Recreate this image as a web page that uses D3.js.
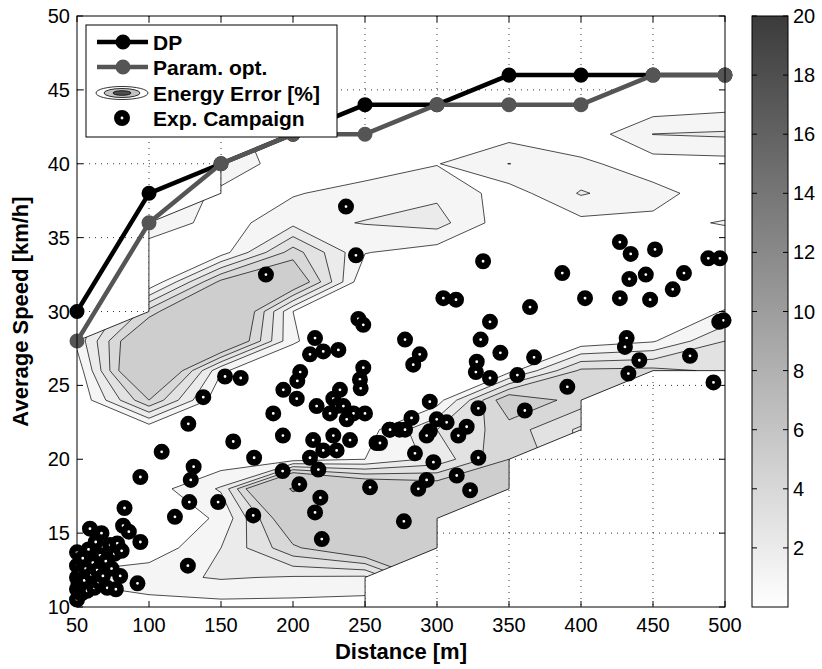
<!DOCTYPE html>
<html>
<head>
<meta charset="utf-8">
<script src="https://cdnjs.cloudflare.com/ajax/libs/d3/7.8.5/d3.min.js"></script>
<style>
  body { margin: 0; background: #fff; }
  text { font-family: "Liberation Sans", Arial, Helvetica, sans-serif; }
</style>
</head>
<body>
<svg id="chart" width="822" height="669"></svg>
<script>
// grid axes of the energy error map
const distances = [50, 100, 150, 200, 250, 300, 350, 400, 450, 500];
const speeds = [10, 12, 14, 16, 18, 20, 22, 24, 26, 28, 30, 32, 34, 36, 38, 40, 42, 44, 46, 48, 50];

// optimal speed profiles
const dpSpeed = [30, 38, 40, 42, 44, 44, 46, 46, 46, 46];
const paramSpeed = [28, 36, 40, 42, 42, 44, 44, 44, 46, 46];

// energy error [%], one row per speed (10 -> 50 km/h), null = not computed
const N = null;
const errorGrid = [
  [0.3, 0.5, 0.6, 0.6, 0.5, N, N, N, N, N],
  [1.2, 1.7, 2.1, 1.9, 1.8, N, N, N, N, N],
  [0.3, 0.3, 2.0, 4.8, 6.5, 6.0, N, N, N, N],
  [0.2, 0.5, 1.1, 6.5, 6.8, 6.5, N, N, N, N],
  [0, 0.47, 2.13, 10.4, 7.0, 6.0, 6.0, N, N, N],
  [0, 0, 0.3, 0.5, 1.0, 2.3, 5.0, N, N, N],
  [0, 0.1, 0, 0, 0.5, 3.0, 4.5, 2.8, N, N],
  [0, 5.0, 0.1, 0, 0, 0.5, 6.0, 4.5, N, N],
  [0.3, 8.4, 1.1, 0.2, 0, 0, 0.6, 4.2, 4.3, 3.8],
  [1.3, 7.4, 7.5, 1.1, 0, 0, 0, 0.3, 0.9, 3.0],
  [N, 4.4, 8.5, 1.0, 0, 0, 0, 0, 0.3, 1.05],
  [N, 0, 5.3, 6.5, 0, 0, 0, 0, 0, 0.3],
  [N, 0.3, 0.5, 4.5, 1.05, 0.5, 0.2, 0.2, 0.2, 0.5],
  [N, 1.8, 0.5, 1.7, 2.05, 2.4, 0.3, 0.7, 0.8, 1.05],
  [N, N, 0.8, 0.9, 1.5, 1.8, 0.5, 2.1, 1.3, 0.5],
  [N, N, 1.6, 0.5, 0.3, 0.95, 2.02, 1.2, 0.5, 0.6],
  [N, N, N, 0, 0, 0, 0.6, 0.3, 2.02, 2.15],
  [N, N, N, N, N, 0, 0, 0, 0.3, 0.6],
  [N, N, N, N, N, N, N, N, 0, 0],
  [N, N, N, N, N, N, N, N, N, N],
  [N, N, N, N, N, N, N, N, N, N]
];
const levels = [1, 2, 3, 4, 5, 10];

// experimental campaign [distance m, average speed km/h]
const campaign = [
  [50, 10.5], [50, 11.2], [50, 12.0], [50, 12.8], [50, 13.7], [51, 11.6], [52, 12.4], [53, 10.9],
  [54, 13.3], [55, 11.8], [56, 12.6], [57, 11.1], [58, 13.9], [59, 15.3], [60, 12.2], [61, 13.0],
  [62, 11.3], [63, 14.4], [64, 12.5], [65, 11.7], [66, 13.5], [67, 15.0], [68, 12.1], [70, 13.1],
  [71, 11.3], [73, 14.2], [74, 12.6], [76, 13.6], [77, 11.2], [78, 14.3], [80, 12.1], [81, 13.8],
  [82, 15.5], [83, 16.7], [86, 15.1], [92, 11.6], [94, 14.4], [94, 18.8], [127, 12.8], [118, 16.1],
  [236.8, 37.1], [181.2, 32.5], [243.7, 33.8], [332, 33.4], [245.4, 29.5], [248.8, 29.1],
  [215.3, 28.2], [211.8, 27.1], [221, 27.3], [231.5, 27.4], [205, 25.9], [203, 25.3],
  [248.8, 26.2], [246.5, 25.4], [247, 24.8], [152.8, 25.6], [163.7, 25.5], [137.7, 24.2],
  [127.3, 22.4], [186.3, 23.1], [193.3, 24.7], [202.6, 24.1], [228, 24.1], [230.3, 23.6],
  [235, 23.6], [242, 23.1], [216.4, 23.6], [232.6, 24.7], [225.7, 23.1], [237.3, 22.7], [250, 23.1],
  [193, 21.6], [214, 21.3], [228, 21.6], [239.6, 21.3], [230.3, 20.6], [221, 20.6], [211.8, 20.1],
  [217.6, 19.3], [192.8, 19.2], [204.4, 18.3], [219, 17.4], [215.3, 16.4], [220, 14.6], [172.4, 16.2],
  [173, 20.1], [158.5, 21.2], [148, 17.1], [128, 17.1], [108.8, 20.5], [131, 19.5], [129, 18.6],
  [258, 21.1], [253.5, 18.1], [267, 22.0], [274, 22.0],
  [387, 32.6], [304.4, 30.9], [313.2, 30.8], [364.6, 30.3], [336.8, 29.3], [402.8, 30.9], [427, 30.9],
  [448, 30.8], [463.7, 31.5], [471.5, 32.6], [433.6, 32.2], [445, 32.5], [427, 34.7], [434.5, 33.9],
  [451.4, 34.2], [488.4, 33.6], [496.5, 33.6],
  [277.8, 28.1], [288, 27.1], [283.5, 26.4], [330.3, 28.1], [344, 27.2], [367.4, 26.9], [327.6, 26.6],
  [327, 25.9], [336.8, 25.5], [355.8, 25.7], [295, 23.9], [328.7, 23.45], [361, 23.3], [390.5, 24.9],
  [431.7, 28.2], [430.5, 27.6], [440.5, 26.7], [432.9, 25.8], [475.7, 27.0], [496, 29.3], [499, 29.4],
  [492, 25.2],
  [277.8, 22.0], [267.4, 22.0], [260.4, 21.1], [282.3, 22.8], [299.8, 22.7], [306.7, 22.5],
  [320.6, 22.2], [314.8, 21.6], [295, 21.9], [292.8, 21.6], [284.7, 20.4], [297.5, 19.8],
  [328.7, 20.1], [313.7, 18.9], [292.8, 18.6], [287, 18.0], [323, 17.9], [277, 15.8]
];

const xTicks = [50, 100, 150, 200, 250, 300, 350, 400, 450, 500];
const yTicks = [10, 15, 20, 25, 30, 35, 40, 45, 50];
const cbTicks = [2, 4, 6, 8, 10, 12, 14, 16, 18, 20];

const svg = d3.select("#chart");
const pL = 77, pR = 725, pT = 16, pB = 607;
const x = d3.scaleLinear().domain([50, 500]).range([pL, pR]);
const y = d3.scaleLinear().domain([10, 50]).range([pB, pT]);
const shade = d3.scaleLinear().domain([0, 20]).range(["#ffffff", "#3b3b3b"]);

const defs = svg.append("defs");
defs.append("clipPath").attr("id", "plotClip")
  .append("rect").attr("x", pL).attr("y", pT)
  .attr("width", pR - pL).attr("height", pB - pT);

// dotted grid
const grid = svg.append("g").attr("stroke", "#000").attr("stroke-width", 0.8)
  .attr("stroke-dasharray", "1,5");
xTicks.slice(1, -1).forEach(t => grid.append("line")
  .attr("x1", x(t)).attr("x2", x(t)).attr("y1", pT).attr("y2", pB));
yTicks.slice(1, -1).forEach(t => grid.append("line")
  .attr("x1", pL).attr("x2", pR).attr("y1", y(t)).attr("y2", y(t)));

// contour input: pad missing cells with the nearest value in the column, then clip to the valid area
const nx = distances.length, ny = speeds.length;
const padded = [], mask = [];
for (let j = 0; j < ny; j++) {
  for (let i = 0; i < nx; i++) {
    let v = errorGrid[j][i];
    mask.push(v === null ? 0 : 1);
    if (v === null) {
      let best = null, dist = Infinity;
      for (let k = 0; k < ny; k++) {
        if (errorGrid[k][i] !== null && Math.abs(k - j) < dist) { dist = Math.abs(k - j); best = errorGrid[k][i]; }
      }
      v = best;
    }
    padded.push(v);
  }
}
const dStep = distances[1] - distances[0], sStep = speeds[1] - speeds[0];
const toPx = p => [x(distances[0] + (p[0] - 0.5) * dStep), y(speeds[0] + (p[1] - 0.5) * sStep)];
const ringPath = r => "M" + r.map(p => toPx(p).map(v => v.toFixed(2)).join(",")).join("L") + "Z";
const multiPath = mp => mp.coordinates.map(poly => poly.map(ringPath).join("")).join("");

const contours = d3.contours().size([nx, ny]);
const validShape = contours.thresholds([0.999])(mask)[0];
const validD = multiPath(validShape);
defs.append("clipPath").attr("id", "validClip")
  .append("path").attr("d", validD).attr("clip-rule", "evenodd");

const mapG = svg.append("g").attr("clip-path", "url(#plotClip)");
mapG.append("path").attr("d", validD).attr("fill", "#fff").attr("fill-rule", "evenodd");
const bands = mapG.append("g").attr("clip-path", "url(#validClip)");
levels.forEach(L => {
  const c = contours.thresholds([L])(padded)[0];
  bands.append("path").attr("d", multiPath(c))
    .attr("fill", shade(L)).attr("fill-rule", "evenodd")
    .attr("stroke", "#000").attr("stroke-width", 0.7);
});
mapG.append("path").attr("d", validD).attr("fill", "none")
  .attr("stroke", "#000").attr("stroke-width", 0.8);

// optimal profiles
const line = d3.line().x((d, i) => x(distances[i])).y(d => y(d));
function profile(vals, color) {
  svg.append("path").attr("d", line(vals)).attr("fill", "none")
    .attr("stroke", color).attr("stroke-width", 4.5).attr("stroke-linejoin", "round");
  svg.append("g").selectAll("circle").data(vals).join("circle")
    .attr("cx", (d, i) => x(distances[i])).attr("cy", d => y(d)).attr("r", 5)
    .attr("fill", color).attr("stroke", color).attr("stroke-width", 5);
}
profile(dpSpeed, "#000");
profile(paramSpeed, "#555");

// experimental campaign
svg.append("g").selectAll("circle").data(campaign).join("circle")
  .attr("cx", d => x(d[0])).attr("cy", d => y(d[1])).attr("r", 4.7)
  .attr("fill", "#fff").attr("stroke", "#000").attr("stroke-width", 6.6);

// axes box and ticks
const axG = svg.append("g").attr("stroke", "#000").attr("stroke-width", 1);
axG.append("rect").attr("x", pL).attr("y", pT).attr("width", pR - pL)
  .attr("height", pB - pT).attr("fill", "none");
xTicks.forEach(t => {
  axG.append("line").attr("x1", x(t)).attr("x2", x(t)).attr("y1", pB).attr("y2", pB - 6);
  axG.append("line").attr("x1", x(t)).attr("x2", x(t)).attr("y1", pT).attr("y2", pT + 6);
});
yTicks.forEach(t => {
  axG.append("line").attr("x1", pL).attr("x2", pL + 6).attr("y1", y(t)).attr("y2", y(t));
  axG.append("line").attr("x1", pR).attr("x2", pR - 6).attr("y1", y(t)).attr("y2", y(t));
});
svg.append("g").selectAll("text").data(xTicks).join("text")
  .attr("x", d => x(d)).attr("y", 632).attr("text-anchor", "middle")
  .attr("font-size", 20).text(d => d);
svg.append("g").selectAll("text").data(yTicks).join("text")
  .attr("x", 70).attr("y", d => y(d) + 7).attr("text-anchor", "end")
  .attr("font-size", 20).text(d => d);
svg.append("text").attr("x", (pL + pR) / 2).attr("y", 659).attr("text-anchor", "middle")
  .attr("font-size", 22).attr("font-weight", "bold").text("Distance [m]");
svg.append("text").attr("transform", `translate(28,${(pT + pB) / 2}) rotate(-90)`)
  .attr("text-anchor", "middle").attr("font-size", 22).attr("font-weight", "bold")
  .text("Average Speed [km/h]");

// legend
const lg = svg.append("g");
lg.append("rect").attr("x", 86).attr("y", 25).attr("width", 251).attr("height", 112)
  .attr("fill", "#fff").attr("stroke", "#000").attr("stroke-width", 1);
const rowsY = [42, 67, 93, 118];
[["#000", "DP"], ["#555", "Param. opt."]].forEach(([col, lab], k) => {
  lg.append("line").attr("x1", 97).attr("x2", 148).attr("y1", rowsY[k]).attr("y2", rowsY[k])
    .attr("stroke", col).attr("stroke-width", 4.5);
  lg.append("circle").attr("cx", 123).attr("cy", rowsY[k]).attr("r", 5)
    .attr("fill", col).attr("stroke", col).attr("stroke-width", 5);
});
[[26, 6.5, "#fff"], [18, 4.5, shade(6)], [9, 2.3, shade(18)]].forEach(([rx, ry, f]) =>
  lg.append("ellipse").attr("cx", 122).attr("cy", rowsY[2]).attr("rx", rx).attr("ry", ry)
    .attr("fill", f).attr("stroke", "#000").attr("stroke-width", 0.8));
lg.append("circle").attr("cx", 122).attr("cy", rowsY[3]).attr("r", 4.7)
  .attr("fill", "#fff").attr("stroke", "#000").attr("stroke-width", 6.6);
["DP", "Param. opt.", "Energy Error [%]", "Exp. Campaign"].forEach((t, k) =>
  lg.append("text").attr("x", 153).attr("y", rowsY[k] + 7.5).attr("font-size", 21)
    .attr("font-weight", "bold").text(t));

// colorbar
const cbX = 752, cbW = 36;
const cbY = d3.scaleLinear().domain([0, 20]).range([pB, pT]);
const grad = defs.append("linearGradient").attr("id", "cbGrad")
  .attr("x1", 0).attr("y1", 1).attr("x2", 0).attr("y2", 0);
d3.range(0, 21, 2).forEach(v => grad.append("stop")
  .attr("offset", v / 20).attr("stop-color", shade(v)));
svg.append("rect").attr("x", cbX).attr("y", pT).attr("width", cbW).attr("height", pB - pT)
  .attr("fill", "url(#cbGrad)").attr("stroke", "#000").attr("stroke-width", 1);
const cbG = svg.append("g").attr("stroke", "#000").attr("stroke-width", 1);
cbTicks.forEach(t => {
  cbG.append("line").attr("x1", cbX).attr("x2", cbX + 5).attr("y1", cbY(t)).attr("y2", cbY(t));
  cbG.append("line").attr("x1", cbX + cbW).attr("x2", cbX + cbW - 5).attr("y1", cbY(t)).attr("y2", cbY(t));
});
svg.append("g").selectAll("text").data(cbTicks).join("text")
  .attr("x", 793).attr("y", d => cbY(d) + 7).attr("font-size", 20).text(d => d);
</script>
</body>
</html>
